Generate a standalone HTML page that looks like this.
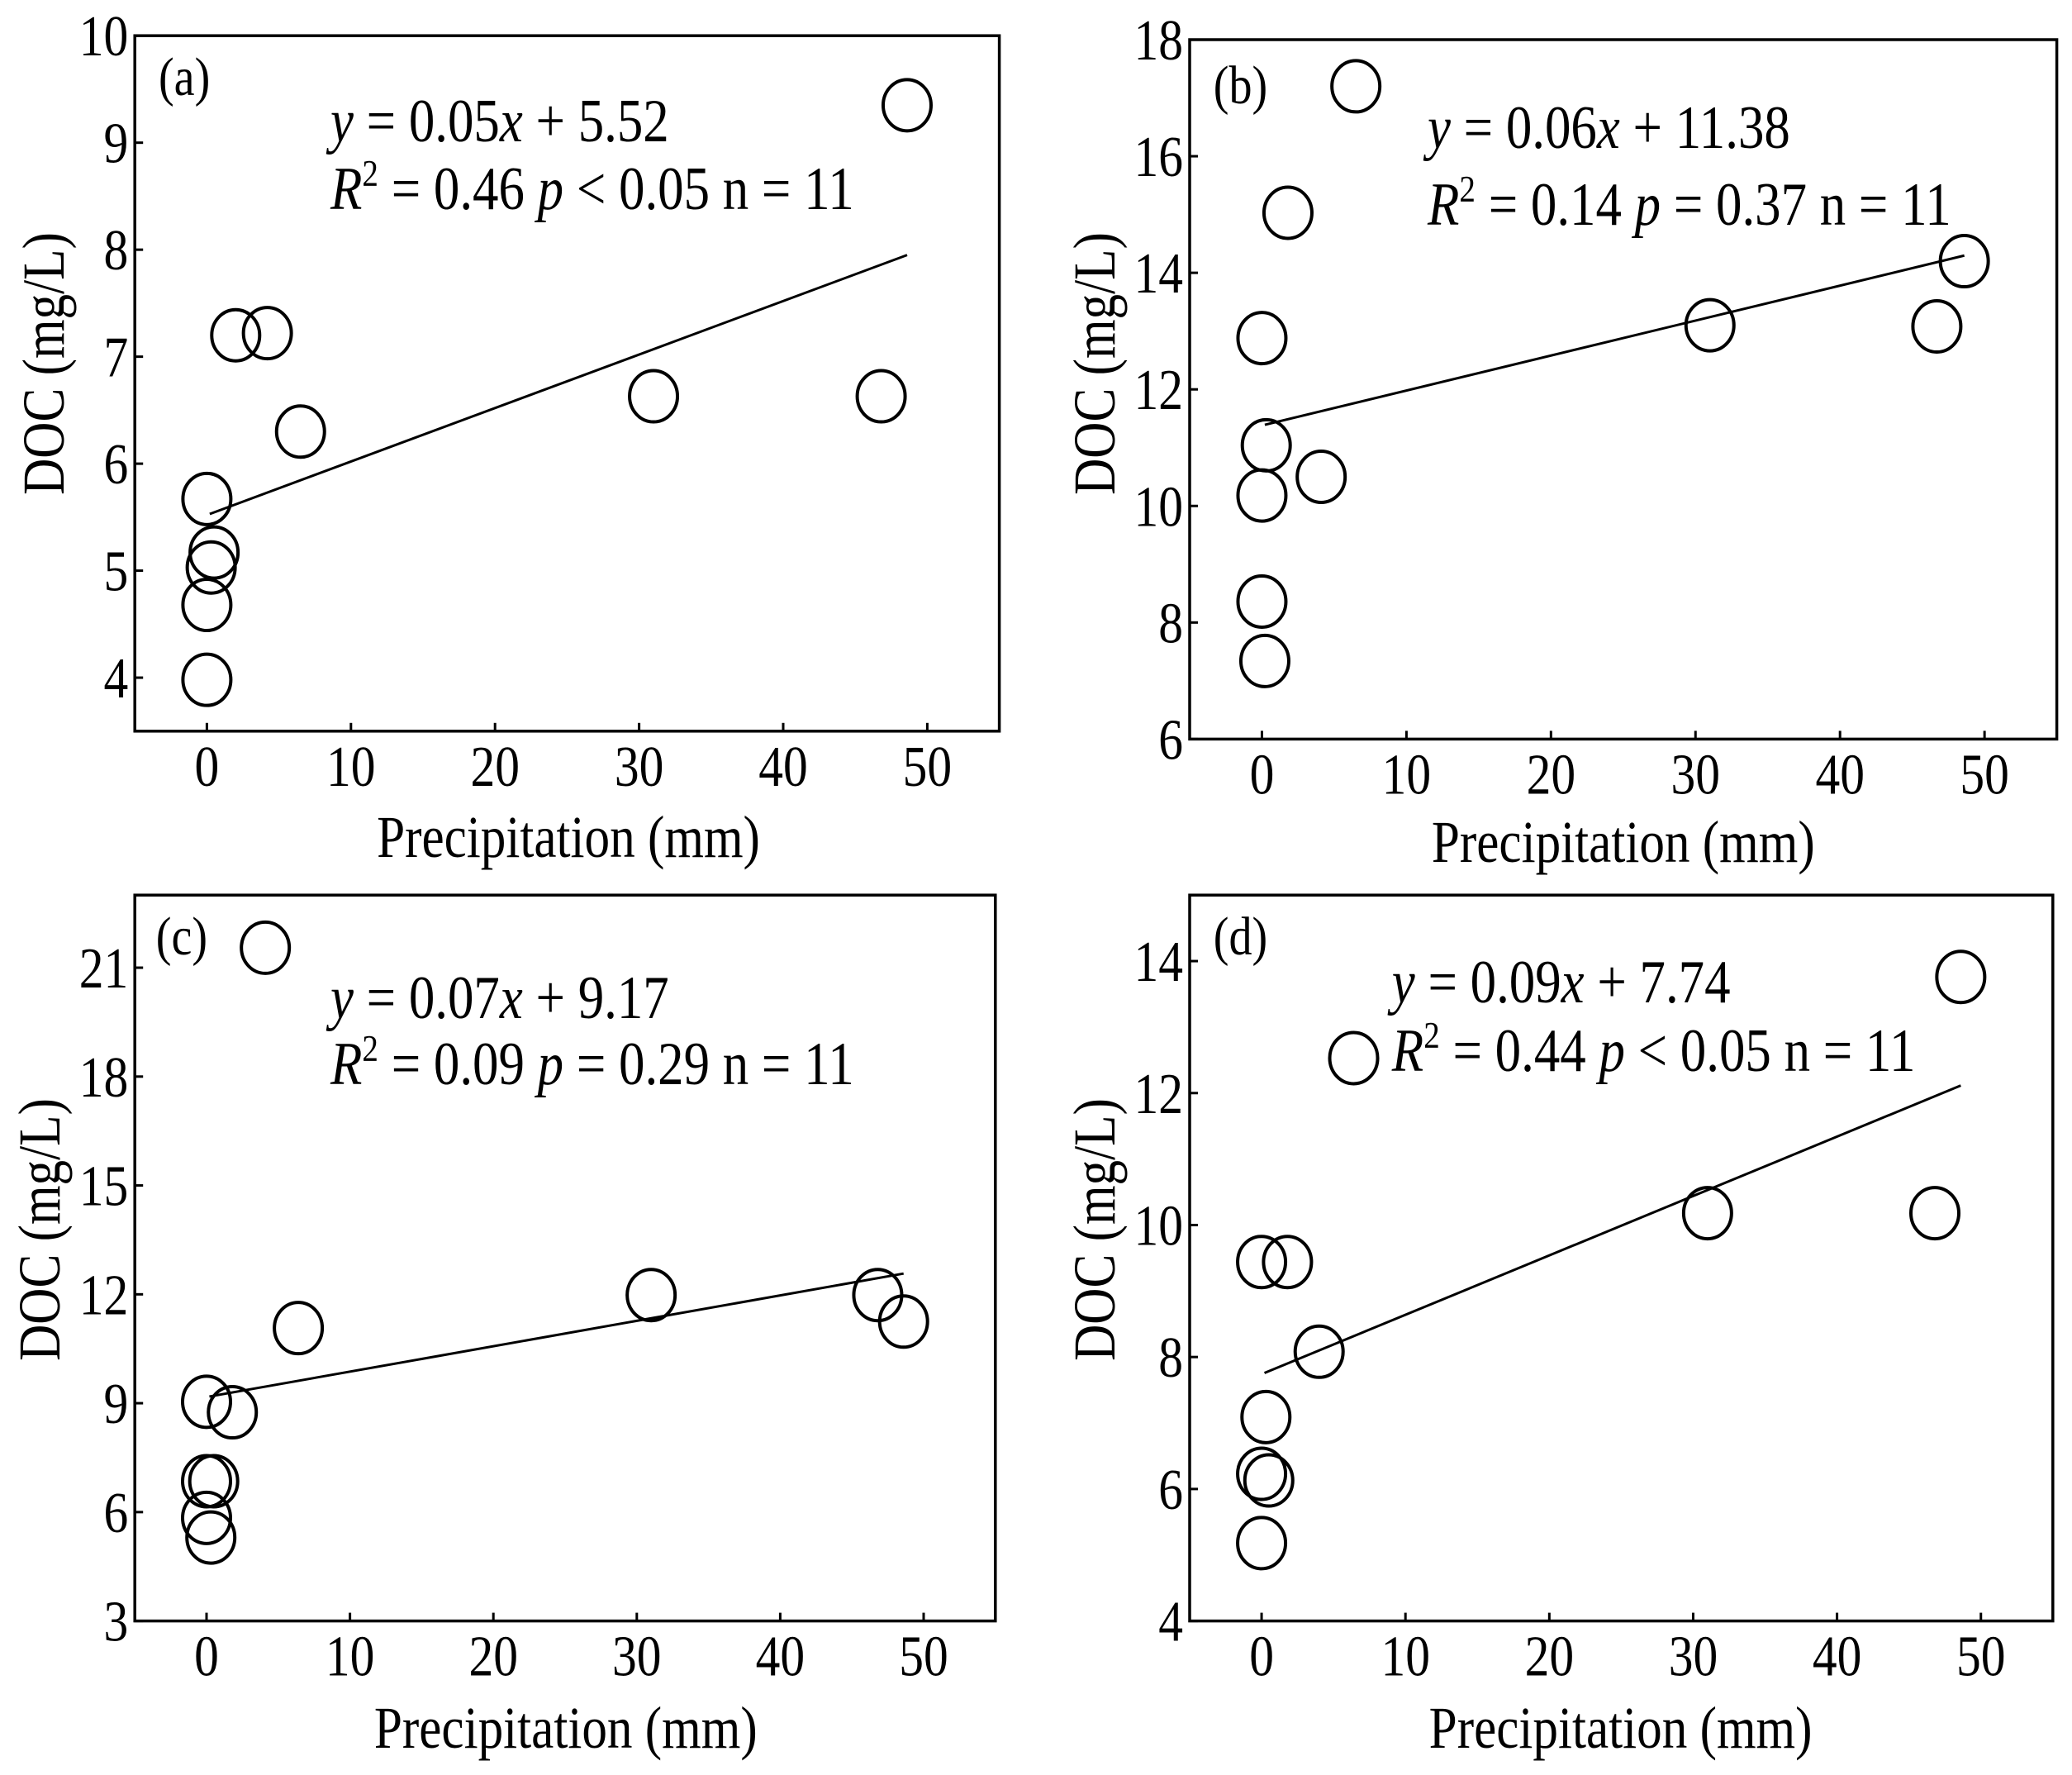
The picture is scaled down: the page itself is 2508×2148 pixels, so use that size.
<!DOCTYPE html>
<html><head><meta charset="utf-8"><style>
html,body{margin:0;padding:0;background:#fff}
svg{display:block;font-family:"Liberation Serif",serif}
</style></head><body>
<svg id="fig" width="2508" height="2148" viewBox="0 0 2508 2148" xmlns="http://www.w3.org/2000/svg"></svg>
<script>
// Panel (a)
const aX=[0,0,0.3,0.5,0,2,4.2,6.5,31,46.8,48.6];
const aY=[3.98,4.68,5.03,5.17,5.67,7.2,7.22,6.3,6.63,6.63,9.35];
const aYTicks=[4,5,6,7,8,9,10];
// Panel (b)
const bX=[0,1.8,6.5,0.3,0,4.1,0,0.2,31,46.7,48.6];
const bY=[12.88,15.03,17.2,11.04,10.18,10.5,8.36,7.34,13.1,13.08,14.2];
const bYTicks=[6,8,10,12,14,16,18];
// Panel (c)
const cX=[4.1,0,1.8,6.4,0,0.5,0,0.3,31,46.8,48.6];
const cY=[21.55,9.04,8.75,11.07,6.85,6.85,5.84,5.3,11.98,11.98,11.25];
const cYTicks=[3,6,9,12,15,18,21];
// Panel (d)
const dX=[0,1.8,6.4,4.0,0.3,0.5,0,0,31,46.8,48.6];
const dY=[9.44,9.44,12.53,8.08,7.09,6.13,6.23,5.18,10.18,10.18,13.76];
const dYTicks=[4,6,8,10,12,14];
const xTicks=[0,10,20,30,40,50];
const slopes=[0.05,0.06,0.07,0.09];
const intercepts=[5.52,11.38,9.17,7.74];

const NS="http://www.w3.org/2000/svg";
const svg=document.getElementById('fig');
function mk(tag,attrs,parent,text){const e=document.createElementNS(NS,tag);for(const k in attrs)e.setAttribute(k,attrs[k]);if(text!==undefined)e.textContent=text;(parent||svg).appendChild(e);return e;}
const SX=0.85;
function txt(x,y,size,anchor,parent,text,extra){
 const e=mk('text',{x:0,y:0,'font-size':size,'text-anchor':anchor,transform:'translate('+x+' '+y+')'+(extra||'')+' scale('+SX+' 1)'},parent,text);
 return e;
}

const S=1.6;
const panels=[
 {id:'a',xs:aX,ys:aY,yt:aYTicks,box:[102,27,756,553],ymin:3.5,ymax:10,lab:[120,72],eq:[250,107,250,158],xt:[430,648],yt2:[33,275],r2:'0.46',p:'<',pv:'0.05'},
 {id:'b',xs:bX,ys:bY,yt:bYTicks,box:[900,30,1556,559],ymin:6,ymax:18,lab:[918,78],eq:[1080,112,1080,170],xt:[1228,652],yt2:[828,275],r2:'0.14',p:'=',pv:'0.37'},
 {id:'c',xs:cX,ys:cY,yt:cYTicks,box:[102,677,753,1226],ymin:3,ymax:23,lab:[118,722],eq:[250,770,250,820],xt:[428,1322],yt2:[30,930],r2:'0.09',p:'=',pv:'0.29'},
 {id:'d',xs:dX,ys:dY,yt:dYTicks,box:[900,677,1553,1226],ymin:4,ymax:15,lab:[918,722],eq:[1053,758,1053,810],xt:[1226,1322],yt2:[828,930],r2:'0.44',p:'<',pv:'0.05'}
];
panels.forEach((P,i)=>{
 const g=mk('g',{});
 
 
 const [x0,y0,x1,y1]=P.box.map(v=>v*S);
 const sx=v=>x0+(v+5)/60*(x1-x0);
 const sy=v=>y1-(v-P.ymin)/(P.ymax-P.ymin)*(y1-y0);
 const box=mk('rect',{x:x0,y:y0,width:x1-x0,height:y1-y0,fill:'none',stroke:'#000','stroke-width':3.5},g);
 
 
 xTicks.forEach(t=>{
  mk('line',{x1:sx(t),x2:sx(t),y1:y1,y2:y1-10,stroke:'#000','stroke-width':3},g);
  const tl=txt(sx(t),y1+66,70,'middle',g,String(t));
  
  
 });
 P.yt.forEach(t=>{
  mk('line',{x1:x0,x2:x0+10,y1:sy(t),y2:sy(t),stroke:'#000','stroke-width':3},g);
  const tl=txt(x0-8,sy(t)+24,70,'end',g,String(t));
  
  
 });
 const m=slopes[i],b=intercepts[i];
 const fl=mk('line',{x1:sx(0.2),y1:sy(b+m*0.2),x2:sx(48.6),y2:sy(b+m*48.6),stroke:'#000','stroke-width':3},g);
 
 
 P.xs.forEach((xv,k)=>{
  const c=mk('ellipse',{cx:sx(xv),cy:sy(P.ys[k]),rx:29,ry:31,fill:'none',stroke:'#000','stroke-width':4},g);
  
  
 });
 const lb=txt(P.lab[0]*S,P.lab[1]*S,66,'start',g,'('+P.id+')');
 
 
 const e1=txt(P.eq[0]*S,P.eq[1]*S,74,'start',g);
 
 
 mk('tspan',{'font-style':'italic'},e1,'y');
 mk('tspan',{},e1,' = '+m.toFixed(2));
 mk('tspan',{'font-style':'italic'},e1,'x');
 mk('tspan',{},e1,' + '+b.toFixed(2));
 const e2=txt(P.eq[2]*S,P.eq[3]*S,74,'start',g);
 
 
 mk('tspan',{'font-style':'italic'},e2,'R');
 mk('tspan',{'font-size':46,dy:-28},e2,'2');
 mk('tspan',{dy:28},e2,' = '+P.r2+' ');
 mk('tspan',{'font-style':'italic'},e2,'p');
 mk('tspan',{},e2,' '+P.p+' '+P.pv+' n = 11');
 const xt=txt(P.xt[0]*S,P.xt[1]*S,72,'middle',g,'Precipitation (mm)');
 
 
 const yx=P.yt2[0]*S+24,yy=P.yt2[1]*S;
 const yt=mk('text',{x:0,y:0,'font-size':72,'text-anchor':'middle',transform:'translate('+yx+' '+yy+') rotate(-90) scale('+SX+' 1)'},g,'DOC (mg/L)');
 
 
});
</script>
</body></html>
